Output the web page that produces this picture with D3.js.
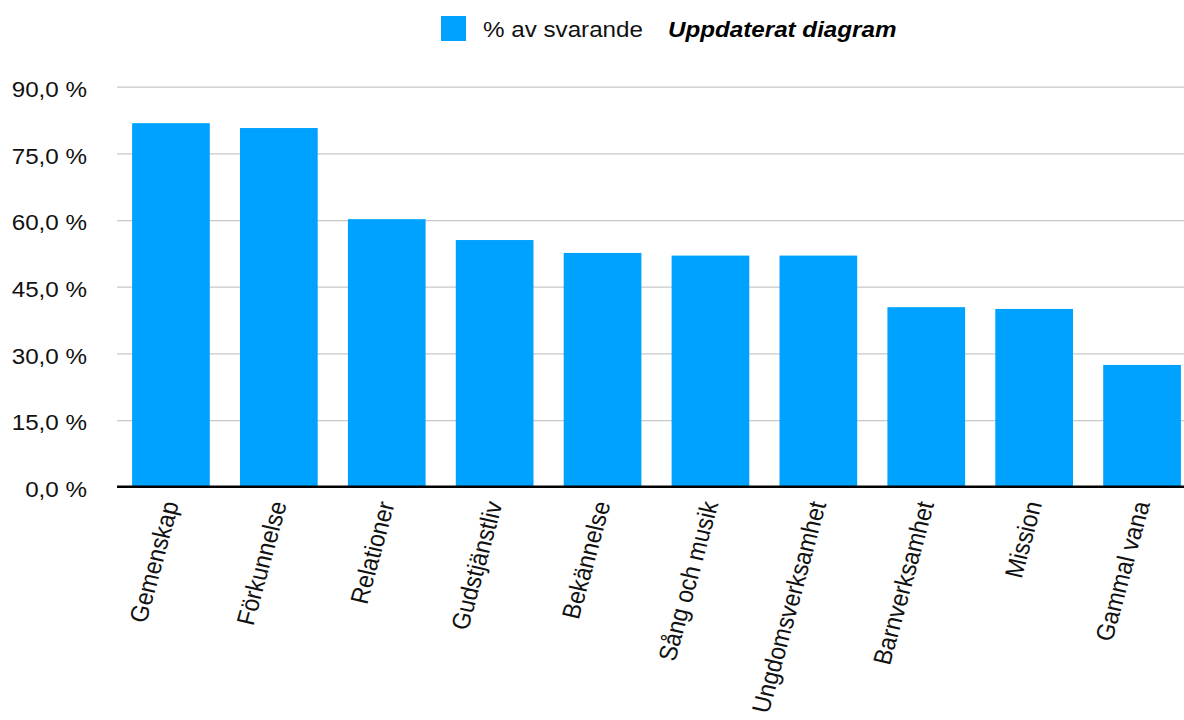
<!DOCTYPE html>
<html>
<head>
<meta charset="utf-8">
<script src="https://cdn.jsdelivr.net/npm/d3@7"></script>
<style>
  html, body { margin: 0; padding: 0; background: #fff; }
  svg { display: block; font-family: "Liberation Sans", Arial, Helvetica, sans-serif; }
</style>
</head>
<body>
<svg id="chart" width="1184" height="720"></svg>
<script>
const categories = ["Gemenskap", "Förkunnelse", "Relationer", "Gudstjänstliv", "Bekännelse",
  "Sång och musik", "Ungdomsverksamhet", "Barnverksamhet", "Mission", "Gammal vana"];
const values = [81.8, 80.7, 60.2, 55.5, 52.6, 52.0, 52.0, 40.4, 40.0, 27.4];
const yTicks = [0, 15, 30, 45, 60, 75, 90];
const seriesName = "% av svarande";
const noteText = "Uppdaterat diagram";

(function () {
const W = 1184;
const plotLeft = 117, plotBottom = 486.7, plotTop = 86.7;
const barColor = "#00A2FF";

const svg = d3.select("#chart");

const x = d3.scaleBand().domain(categories)
  .range([plotLeft, plotLeft + 1079]).paddingInner(0.28).paddingOuter(0.14);
const y = d3.scaleLinear().domain([0, 90]).range([plotBottom, plotTop]);

const fmt = v => d3.format(".1f")(v).replace(".", ",") + " %";

// grid + y labels
const yAxis = d3.axisLeft(y).tickValues(yTicks).tickSize(-(W - plotLeft)).tickFormat(fmt);
const gy = svg.append("g").attr("transform", `translate(${plotLeft},0)`).call(yAxis);
gy.select(".domain").remove();
gy.selectAll(".tick line").attr("stroke", "#c8c8c8").attr("stroke-width", 1.3);
gy.selectAll(".tick text")
  .attr("x", 0).attr("dy", "0.45em")
  .attr("transform", `translate(${87 - plotLeft},0) scale(1.1,1)`)
  .attr("text-anchor", "end")
  .attr("font-size", 22).attr("fill", "#111")
  .attr("font-family", "'Liberation Sans', Arial, sans-serif");

// bars
svg.append("g").selectAll("rect").data(categories).join("rect")
  .attr("x", d => x(d))
  .attr("width", x.bandwidth())
  .attr("y", (d, i) => y(values[i]))
  .attr("height", (d, i) => y(0) - y(values[i]))
  .attr("fill", barColor);

// baseline axis
const xAxis = d3.axisBottom(x).tickSize(0).tickFormat("");
const gx = svg.append("g").attr("transform", `translate(0,${y(0)})`).call(xAxis);
gx.select(".domain").remove();
gx.append("line").attr("x1", plotLeft).attr("x2", W).attr("y1", 0).attr("y2", 0)
  .attr("stroke", "#000").attr("stroke-width", 2.4);

// category labels
svg.append("g").selectAll("text").data(categories).join("text")
  .attr("transform", d => `translate(${x(d) + x.bandwidth() / 2 + 8},${y(0) + 17}) scale(1.1,1) rotate(-76)`)
  .attr("text-anchor", "end")
  .attr("font-size", 23)
  .attr("fill", "#111")
  .text(d => d);

// legend
const lg = svg.append("g");
lg.append("rect").attr("x", 441).attr("y", 16).attr("width", 25).attr("height", 25).attr("fill", barColor);
lg.append("text").attr("transform", "translate(483,37) scale(1.1,1)")
  .attr("font-size", 22).attr("fill", "#111").text(seriesName);
lg.append("text").attr("transform", "translate(668,37) scale(1.1,1)")
  .attr("font-size", 22).attr("font-weight", "bold").attr("font-style", "italic")
  .attr("fill", "#000").text(noteText);
})();
</script>
</body>
</html>
